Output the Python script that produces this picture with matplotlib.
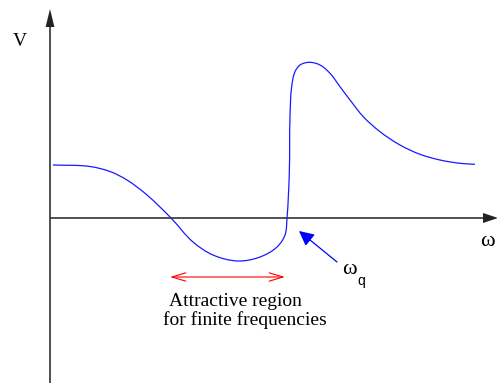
import matplotlib
matplotlib.use("Agg")
import matplotlib.pyplot as plt
import numpy as np
from matplotlib.path import Path
from matplotlib.patches import PathPatch

# Potential V(omega) sketch, coordinates in drawing units (origin at the axis crossing)
omega = [3, 40, 60, 77, 97, 121, 143, 163, 188, 210, 227, 235, 237, 239.3,
         240, 241.7, 245, 250, 259.3, 270, 280, 290, 300, 313.3, 330, 350,
         370, 390, 410, 425]
V = [53, 51.5, 46.5, 38, 23, 0, -24, -37, -43, -39, -29, -17, 0, 44.7,
     101.3, 131.3, 146.3, 153, 155.7, 153, 144.7, 131.3, 118, 101.3, 86.3, 73,
     63.7, 58, 54.7, 53.7]

# Attractive region and the marked frequency
attract_lo, attract_hi = 120, 235
omega_q = (249, -13)


def smooth_path(xs, ys):
    """Cubic Bezier path through the given points with smooth tangents."""
    P = np.column_stack([xs, ys]).astype(float)
    n = len(P)
    tang = np.zeros_like(P)
    for i in range(n):
        if i == 0:
            d = P[1] - P[0]
        elif i == n - 1:
            d = P[-1] - P[-2]
        else:
            a = P[i] - P[i - 1]
            b = P[i + 1] - P[i]
            d = a / np.linalg.norm(a) + b / np.linalg.norm(b)
        tang[i] = d / np.linalg.norm(d)
    verts = [P[0]]
    codes = [Path.MOVETO]
    for i in range(n - 1):
        L = np.linalg.norm(P[i + 1] - P[i]) / 3.0
        verts += [P[i] + tang[i] * L, P[i + 1] - tang[i + 1] * L, P[i + 1]]
        codes += [Path.CURVE4] * 3
    return Path(verts, codes)


fig = plt.figure(figsize=(4.97, 3.88), dpi=100)
ax = fig.add_axes([0, 0, 1, 1])
ox, oy = 50, 218
ax.set_xlim(-ox, 497 - ox)
ax.set_ylim(oy - 388, oy)
ax.axis("off")

axis_col = "#333333"
# vertical axis
ax.plot([0, 0], [oy - 383, oy - 27], color=axis_col, lw=1.2, solid_capstyle="butt")
ax.add_patch(plt.Polygon([[-4.4, oy - 27], [4.4, oy - 27], [0, oy - 9]],
                         closed=True, color="#222222", lw=0))
# horizontal axis
ax.plot([0, 433], [0, 0], color=axis_col, lw=1.2, solid_capstyle="butt")
ax.add_patch(plt.Polygon([[433, -5], [433, 5], [448, 0]],
                         closed=True, color="#222222", lw=0))

# curve
ax.add_patch(PathPatch(smooth_path(omega, V), facecolor="none",
                       edgecolor="#1a1aff", lw=0.9))

serif = ["Liberation Serif", "DejaVu Serif"]
ax.text(-30, oy - 42, "V", fontsize=14, family=serif, ha="center", va="center")
ax.text(430, -24, "ω", fontsize=16, family=serif, ha="left", va="center")

# red double arrow over the attractive region
ax.annotate("", xy=(attract_hi, -59), xytext=(attract_lo, -59),
            arrowprops=dict(arrowstyle="<->,head_length=1.0,head_width=0.3",
                            color="red", lw=0.8, shrinkA=0, shrinkB=0))
ax.text(185, -84, "Attractive region", fontsize=14, family=serif,
        ha="center", va="center")
ax.text(195, -102, "for finite frequencies", fontsize=14, family=serif,
        ha="center", va="center")

# blue arrow pointing at omega_q
ax.annotate("", xy=omega_q, xytext=(287, -44),
            arrowprops=dict(arrowstyle="-|>,head_length=0.9,head_width=0.45",
                            color="blue", lw=0.9, shrinkA=0, shrinkB=0))
ax.text(292, -52, "ω", fontsize=16, family=serif, ha="left", va="center")
ax.text(307, -63, "q", fontsize=10, family=["Liberation Sans", "DejaVu Sans"],
        ha="left", va="center")

fig.savefig("out.png", dpi=100)
